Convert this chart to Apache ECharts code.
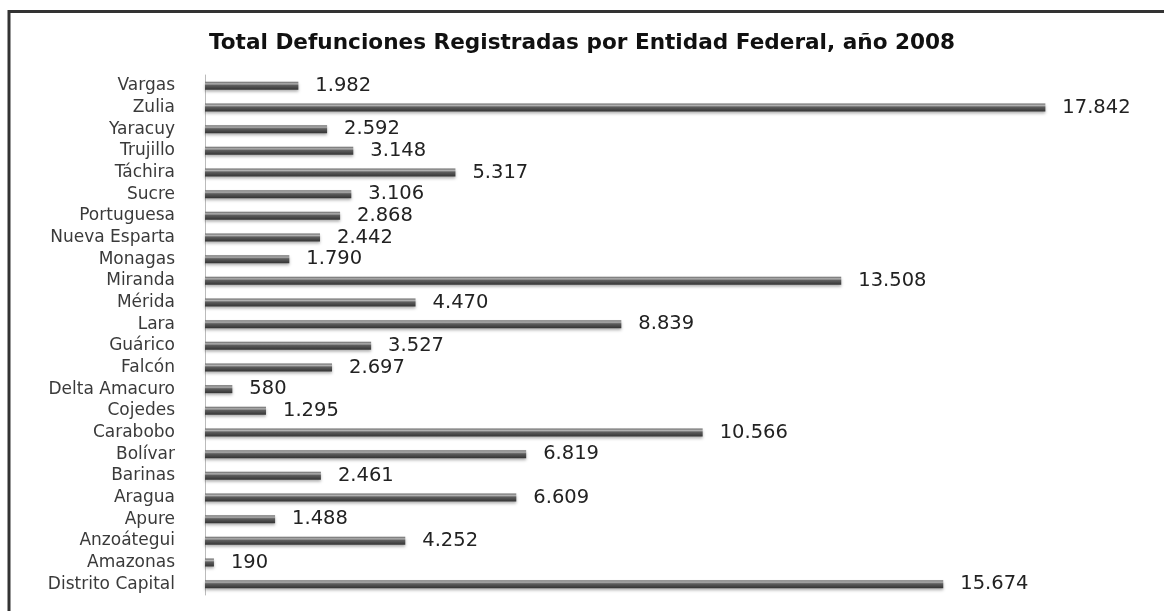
<!DOCTYPE html>
<html>
<head>
<meta charset="utf-8">
<script src="https://cdn.jsdelivr.net/npm/echarts@6/dist/echarts.min.js"></script>
<style>
  html, body { margin: 0; padding: 0; background: #fff; }
  #main { width: 1164px; height: 611px; }
</style>
</head>
<body>
<div id="main"></div>
<script>
// entidades, de arriba hacia abajo
var entidades = ['Vargas', 'Zulia', 'Yaracuy', 'Trujillo', 'Táchira', 'Sucre', 'Portuguesa',
  'Nueva Esparta', 'Monagas', 'Miranda', 'Mérida', 'Lara', 'Guárico', 'Falcón',
  'Delta Amacuro', 'Cojedes', 'Carabobo', 'Bolívar', 'Barinas', 'Aragua', 'Apure',
  'Anzoátegui', 'Amazonas', 'Distrito Capital'];
var defunciones = [1982, 17842, 2592, 3148, 5317, 3106, 2868,
  2442, 1790, 13508, 4470, 8839, 3527, 2697,
  580, 1295, 10566, 6819, 2461, 6609, 1488,
  4252, 190, 15674];

var titulo = 'Total Defunciones Registradas por Entidad Federal, año 2008';

// separador de miles con punto
function fmtMiles(v) {
  return String(v).replace(/\B(?=(\d{3})+(?!\d))/g, '.');
}

var myChart = echarts.init(document.getElementById('main'));
myChart.setOption({
  backgroundColor: '#fff',
  animation: false,
  title: {
    text: titulo,
    left: 'center',
    top: 27,
    textStyle: {
      fontFamily: 'DejaVu Sans',
      fontWeight: 'bold',
      fontSize: 21.6,
      color: '#111'
    }
  },
  graphic: [{
    type: 'polyline',
    shape: { points: [[9, 611], [9, 11.5], [1164, 11.5]] },
    style: { stroke: '#333', lineWidth: 3, fill: null }
  }],
  grid: {
    left: 205,
    right: 17,
    top: 75,
    bottom: 16
  },
  xAxis: {
    type: 'value',
    min: 0,
    max: 20000,
    show: false
  },
  yAxis: {
    type: 'category',
    inverse: true,
    data: entidades,
    axisLine: { show: true, lineStyle: { color: '#bbb', width: 1 } },
    axisTick: { show: false },
    axisLabel: {
      interval: 0,
      margin: 30,
      fontFamily: 'DejaVu Sans',
      fontSize: 17,
      color: '#3a3a3a'
    }
  },
  series: [{
    type: 'bar',
    data: defunciones,
    barWidth: 8,
    itemStyle: {
      color: new echarts.graphic.LinearGradient(0, 0, 0, 1, [
        { offset: 0, color: '#6a6a6a' },
        { offset: 0.25, color: '#b0b0b0' },
        { offset: 0.45, color: '#5e5e5e' },
        { offset: 1, color: '#333' }
      ]),
      shadowColor: 'rgba(0,0,0,0.3)',
      shadowBlur: 3,
      shadowOffsetY: 2
    },
    label: {
      show: true,
      position: 'right',
      distance: 17,
      fontFamily: 'DejaVu Sans',
      fontSize: 19.5,
      color: '#222',
      formatter: function (p) { return fmtMiles(p.value); }
    }
  }]
});
</script>
</body>
</html>
